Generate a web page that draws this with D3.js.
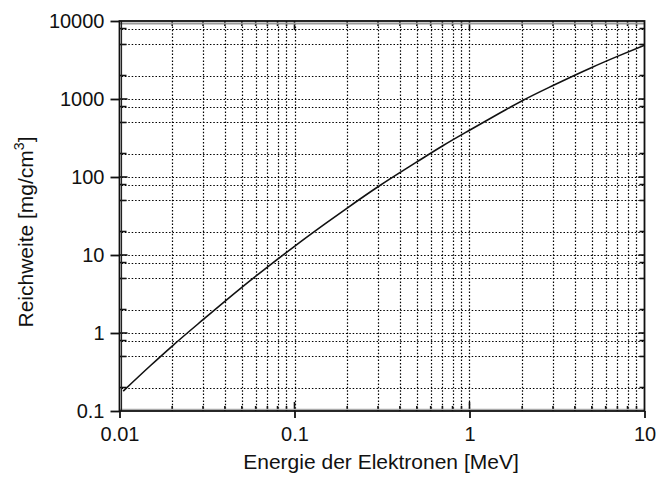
<!DOCTYPE html>
<html>
<head>
<meta charset="utf-8">
<script src="https://cdn.jsdelivr.net/npm/d3@7"></script>
<style>
  html, body { margin: 0; padding: 0; background: #fff; }
  svg { display: block; }
  text { font-family: "Liberation Sans", Arial, Helvetica, sans-serif; fill: #111; }
</style>
</head>
<body>
<svg id="chart" width="656" height="481"></svg>
<script>
// Electron energy [MeV] and range [mg/cm^3]
const energy = [0.0105, 0.015, 0.02, 0.03, 0.05, 0.07, 0.1, 0.15, 0.2, 0.3,
                0.5, 0.7, 1, 1.5, 2, 3, 5, 7, 10];
const reach  = [0.18, 0.38, 0.68, 1.48, 3.85, 7.0, 12.9, 25.2, 40, 75,
                156, 250, 398, 665, 950, 1490, 2540, 3520, 4900];

// Axis ticks
const xMajor = [0.01, 0.1, 1, 10];
const xLabels = ["0.01", "0.1", "1", "10"];
const xMinorFactors = [2, 3, 4, 5, 6, 7, 8, 9];
const yMajor = [0.1, 1, 10, 100, 1000, 10000];
const yLabels = ["0.1", "1", "10", "100", "1000", "10000"];
const yMinorFactors = [2, 5, 8];

const xTitle = "Energie der Elektronen [MeV]";

const pL = 119.5, pR = 644.5, pT = 21, pB = 411;

const svg = d3.select("#chart");
const x = d3.scaleLog().domain([0.01, 10]).range([pL, pR]);
const y = d3.scaleLog().domain([0.1, 10000]).range([pB, pT]);

const xMinor = [];
xMajor.slice(0, -1).forEach(d => xMinorFactors.forEach(f => xMinor.push(d * f)));
const yMinor = [];
yMajor.slice(0, -1).forEach(d => yMinorFactors.forEach(f => yMinor.push(d * f)));

// dotted grid
const grid = svg.append("g").attr("stroke", "#000").attr("stroke-width", 1.2)
  .attr("stroke-dasharray", "1.5,1.9");
grid.selectAll("line.vx").data(xMinor.concat(xMajor.slice(1, -1))).join("line")
  .attr("x1", d => Math.round(x(d)) + 0.5).attr("x2", d => Math.round(x(d)) + 0.5)
  .attr("y1", pT + 2).attr("y2", pB - 1);
grid.selectAll("line.hy").data(yMinor.concat(yMajor.slice(1, -1))).join("line")
  .attr("y1", d => Math.round(y(d)) + 0.5).attr("y2", d => Math.round(y(d)) + 0.5)
  .attr("x1", pL + 2).attr("x2", pR - 1);

// inner ticks on all four sides
const ticks = svg.append("g").attr("stroke", "#111").attr("stroke-width", 1.6);
const xInner = xMinor.map(d => ({v: d, len: 5})).concat(xMajor.slice(1, -1).map(d => ({v: d, len: 9})));
const yInner = yMinor.map(d => ({v: d, len: 7})).concat(yMajor.slice(1, -1).map(d => ({v: d, len: 8})));
ticks.selectAll("line.b").data(xInner).join("line")
  .attr("x1", d => x(d.v)).attr("x2", d => x(d.v))
  .attr("y1", pB).attr("y2", d => pB - d.len);
ticks.selectAll("line.t").data(xInner).join("line")
  .attr("x1", d => x(d.v)).attr("x2", d => x(d.v))
  .attr("y1", pT).attr("y2", d => pT + d.len);
ticks.selectAll("line.l").data(yInner).join("line")
  .attr("y1", d => y(d.v)).attr("y2", d => y(d.v))
  .attr("x1", pL).attr("x2", d => pL + d.len);
ticks.selectAll("line.r").data(yInner).join("line")
  .attr("y1", d => y(d.v)).attr("y2", d => y(d.v))
  .attr("x1", pR).attr("x2", d => pR - d.len + 2);

// frame
const frame = svg.append("g").attr("fill", "none");
frame.append("line").attr("x1", pL).attr("x2", pR).attr("y1", pT + 2.5).attr("y2", pT + 2.5)
  .attr("stroke", "#999").attr("stroke-width", 2);
frame.append("line").attr("x1", pL).attr("x2", pR).attr("y1", pB - 1.5).attr("y2", pB - 1.5)
  .attr("stroke", "#aaa").attr("stroke-width", 1.5);
frame.append("line").attr("x1", pL + 2).attr("x2", pL + 2).attr("y1", pT).attr("y2", pB)
  .attr("stroke", "#222").attr("stroke-width", 1.2);
frame.append("rect").attr("x", pL).attr("y", pT).attr("width", pR - pL).attr("height", pB - pT)
  .attr("stroke", "#111").attr("stroke-width", 1.8);

// axes with labels and outward major ticks
const fmtX = d => xLabels[xMajor.indexOf(d)];
const fmtY = d => yLabels[yMajor.indexOf(d)];
const xAxis = svg.append("g").attr("transform", `translate(0,${pB})`)
  .call(d3.axisBottom(x).tickValues(xMajor).tickFormat(fmtX).tickSize(7).tickPadding(9));
const yAxis = svg.append("g").attr("transform", `translate(${pL},0)`)
  .call(d3.axisLeft(y).tickValues(yMajor).tickFormat(fmtY).tickSize(9).tickPadding(6));
[xAxis, yAxis].forEach(g => {
  g.select(".domain").remove();
  g.selectAll(".tick line").attr("stroke", "#111").attr("stroke-width", 1.8);
  g.selectAll(".tick text").attr("font-size", 20).attr("fill", "#111")
    .style("font-family", '"Liberation Sans", Arial, sans-serif');
});

// range curve
const line = d3.line().x(d => x(d[0])).y(d => y(d[1])).curve(d3.curveMonotoneX);
svg.append("path").datum(energy.map((e, i) => [e, reach[i]]))
  .attr("d", line).attr("fill", "none").attr("stroke", "#111").attr("stroke-width", 1.6);

// axis titles
svg.append("text").attr("x", 381).attr("y", 469).attr("text-anchor", "middle")
  .attr("font-size", 21).text(xTitle);
const yt = svg.append("text").attr("transform", "translate(33,232) rotate(-90)")
  .attr("text-anchor", "middle").attr("font-size", 21);
yt.append("tspan").text("Reichweite [mg/cm");
yt.append("tspan").attr("dy", -9).attr("font-size", 14).text("3");
yt.append("tspan").attr("dy", 9).text("]");
</script>
</body>
</html>
